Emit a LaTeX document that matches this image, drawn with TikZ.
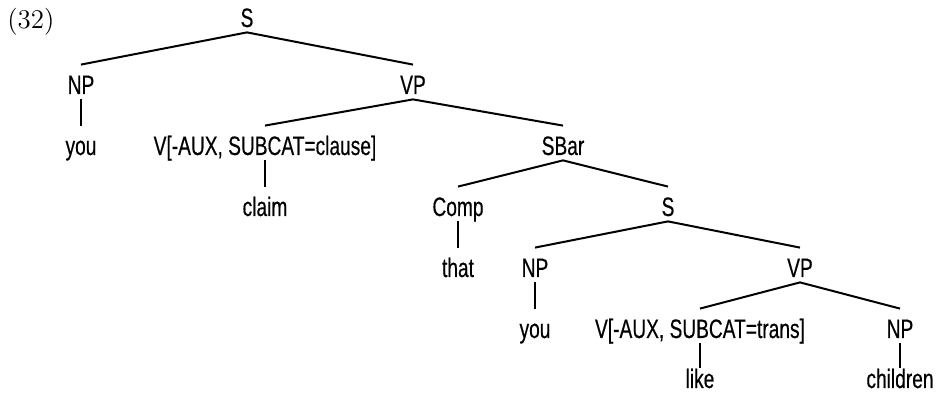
\documentclass[tikz,border=0pt]{standalone}
\usepackage{fontspec}
\newfontfamily\treefont[FakeStretch=0.72,FakeBold=0.4]{Liberation Sans}
\usepackage{tikz}
\usetikzlibrary{positioning}

\begin{document}
\begin{tikzpicture}[x=0.5pt,y=-0.5pt,
    cat/.style={anchor=base,inner sep=0pt,text height=14.5pt,text depth=2.5pt,font=\treefont\fontsize{13.3}{16}\selectfont},
    lastcat/.style={cat,text height=10pt},
    edge/.style={line width=1pt}]
\useasboundingbox (0,0) rectangle (939,399);
\node[anchor=base west,inner sep=0pt,font=\fontsize{13.5}{16}\selectfont] (num) at (7,29) {(32)};
\node[cat] (s) at (247,27) {S};
\node[cat] (np) at (81,94) {NP};
\node[cat] (vp) at (413,94) {VP};
\node[cat] (you) at (81,155) {you};
\node[cat] (vclause) at (265,155) {V[-AUX, SUBCAT=clause]};
\node[cat] (sbar) at (563,155) {SBar};
\node[cat] (claim) at (265,216) {claim};
\node[cat] (comp) at (458,216) {Comp};
\node[cat] (sub) at (668,216) {S};
\node[cat] (that) at (458,277) {that};
\node[cat] (subnp) at (535,277) {NP};
\node[cat] (subvp) at (800,277) {VP};
\node[cat] (subyou) at (535,338) {you};
\node[cat] (vtrans) at (700,338) {V[-AUX, SUBCAT=trans]};
\node[cat] (obj) at (900,338) {NP};
\node[lastcat] (like) at (700,388) {like};
\node[lastcat] (children) at (900,388) {children};
\foreach \a/\b in {s/np,s/vp,np/you,vp/vclause,vp/sbar,vclause/claim,sbar/comp,sbar/sub,
    comp/that,sub/subnp,sub/subvp,subnp/subyou,subvp/vtrans,subvp/obj,vtrans/like,obj/children}
    \draw[edge] (\a.south) -- (\b.north);
\end{tikzpicture}
\end{document}
